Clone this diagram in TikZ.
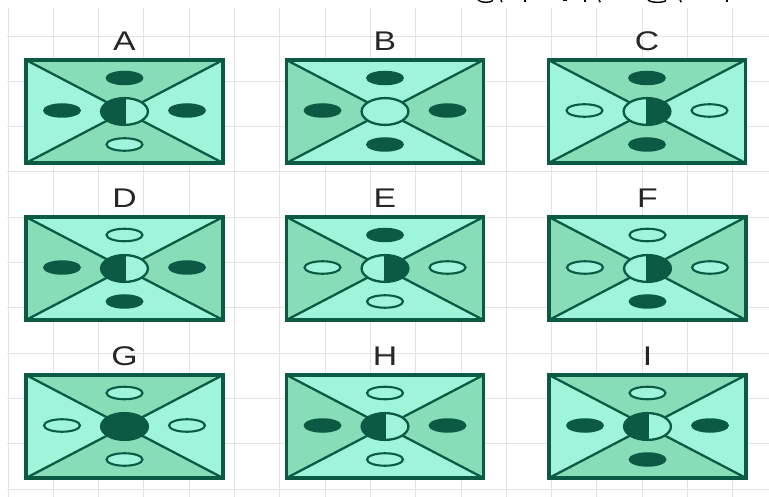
\documentclass[tikz,border=0pt]{standalone}
\usepackage{fontspec}
\setmainfont{Liberation Sans}
\usetikzlibrary{shapes.geometric}
\definecolor{lite}{HTML}{9EF5DA}
\definecolor{shadec}{HTML}{86DDB8}
\definecolor{dk}{HTML}{0C5A44}
\definecolor{gridc}{HTML}{E4E4E4}
\tikzset{
 edge/.style={draw=dk, line width=2.3pt},
 frame/.style={draw=dk, line width=3.2pt, line join=miter},
 smallf/.style={ellipse, fill=dk, minimum width=38pt, minimum height=14.5pt, inner sep=0pt},
 smallh/.style={ellipse, draw=dk, line width=2.1pt, fill=lite, minimum width=36pt, minimum height=12.5pt, inner sep=0pt},
 lbl/.style={font=\fontsize{27}{29}\selectfont, text=black!85, anchor=base, inner sep=0pt},
 gridline/.style={draw=gridc, line width=0.9pt},
 frag/.style={draw=black, line width=1.4pt}
}
\newcommand\shadeT{\fill[shadec] (-98.5,-51.5) -- (98.5,-51.5) -- (0,0) -- cycle (-98.5,51.5) -- (98.5,51.5) -- (0,0) -- cycle;}
\newcommand\shadeS{\fill[shadec] (-98.5,-51.5) -- (-98.5,51.5) -- (0,0) -- cycle (98.5,-51.5) -- (98.5,51.5) -- (0,0) -- cycle;}
\newcommand\cenN{\draw[edge, fill=lite] (0,0) ellipse [x radius=23.4, y radius=13.4];}
\newcommand\cenF{\draw[edge, fill=dk] (0,0) ellipse [x radius=23.4, y radius=13.4];}
\newcommand\cenL{\fill[lite] (0,0) ellipse [x radius=23.4, y radius=13.4];
 \begin{scope}\clip (-30,-20) rectangle (0,20); \fill[dk] (0,0) ellipse [x radius=23.4, y radius=13.4]; \end{scope}
 \draw[edge] (0,0) ellipse [x radius=23.4, y radius=13.4]; \draw[edge] (0,-13.4) -- (0,13.4);}
\newcommand\cenR{\fill[lite] (0,0) ellipse [x radius=23.4, y radius=13.4];
 \begin{scope}\clip (0,-20) rectangle (30,20); \fill[dk] (0,0) ellipse [x radius=23.4, y radius=13.4]; \end{scope}
 \draw[edge] (0,0) ellipse [x radius=23.4, y radius=13.4]; \draw[edge] (0,-13.4) -- (0,13.4);}
\newcommand\panel[9]{%
 \begin{scope}[shift={(#2,#3)}]
 \fill[lite] (-98.5,-51.5) rectangle (98.5,51.5);
 \csname shade#4\endcsname
 \draw[edge] (-98.5,-51.5) -- (98.5,51.5) (-98.5,51.5) -- (98.5,-51.5);
 \draw[frame] (-98.5,-51.5) rectangle (98.5,51.5);
 \node[small#5] (#1t) at (0,-33.5) {};
 \node[small#6] (#1l) at (-62.5,-1) {};
 \node[small#7] (#1r) at (62.5,-1) {};
 \node[small#8] (#1b) at (0,33) {};
 \csname cen#9\endcsname
 \node[lbl] (#1lab) at (0,-61) {\scalebox{1.25}[1]{#1}};
 \end{scope}}
\begin{document}
\begin{tikzpicture}[x=1pt,y=-1pt]
\useasboundingbox (0,0) rectangle (769,497);
\fill[white] (0,0) rectangle (769,497);
\foreach \i in {0,...,16} \draw[gridline] ({8+45.3*\i},8) -- ({8+45.3*\i},497);
\foreach \j in {0,...,10} \draw[gridline] (7,{36+45.3*\j}) -- (769,{36+45.3*\j});
\panel{A}{124.5}{111.5}{T}{f}{f}{f}{h}{L}
\panel{B}{385}{111.5}{S}{f}{f}{f}{f}{N}
\panel{C}{647}{111.5}{T}{f}{h}{h}{f}{R}
\panel{D}{124.5}{268.5}{S}{h}{f}{f}{f}{L}
\panel{E}{385}{268.5}{S}{f}{h}{h}{h}{R}
\panel{F}{647.5}{268.5}{S}{h}{h}{h}{f}{R}
\panel{G}{124.5}{426.5}{T}{h}{h}{h}{h}{F}
\panel{H}{385}{426.5}{S}{h}{f}{f}{h}{L}
\panel{I}{647.5}{426.5}{T}{h}{f}{f}{f}{L}
% cut-off text fragments at the top edge
\draw[frag] (478,0) .. controls (481,3) and (490,3) .. (493,0.5);
\draw[frag] (501,0) -- (502,2.2);
\draw[frag] (525,0) -- (525,2.5);
\draw[frag] (563,0.8) -- (567,0.8);
\draw[frag] (585,0) -- (585,2.5);
\draw[frag] (599,0) -- (600.3,2.2);
\draw[frag] (648,0) .. controls (651,3) and (663,3) .. (666,0.5);
\draw[frag] (680,0) -- (681.3,2.2);
\draw[frag] (727,0) -- (727,2.5);
\end{tikzpicture}
\end{document}
